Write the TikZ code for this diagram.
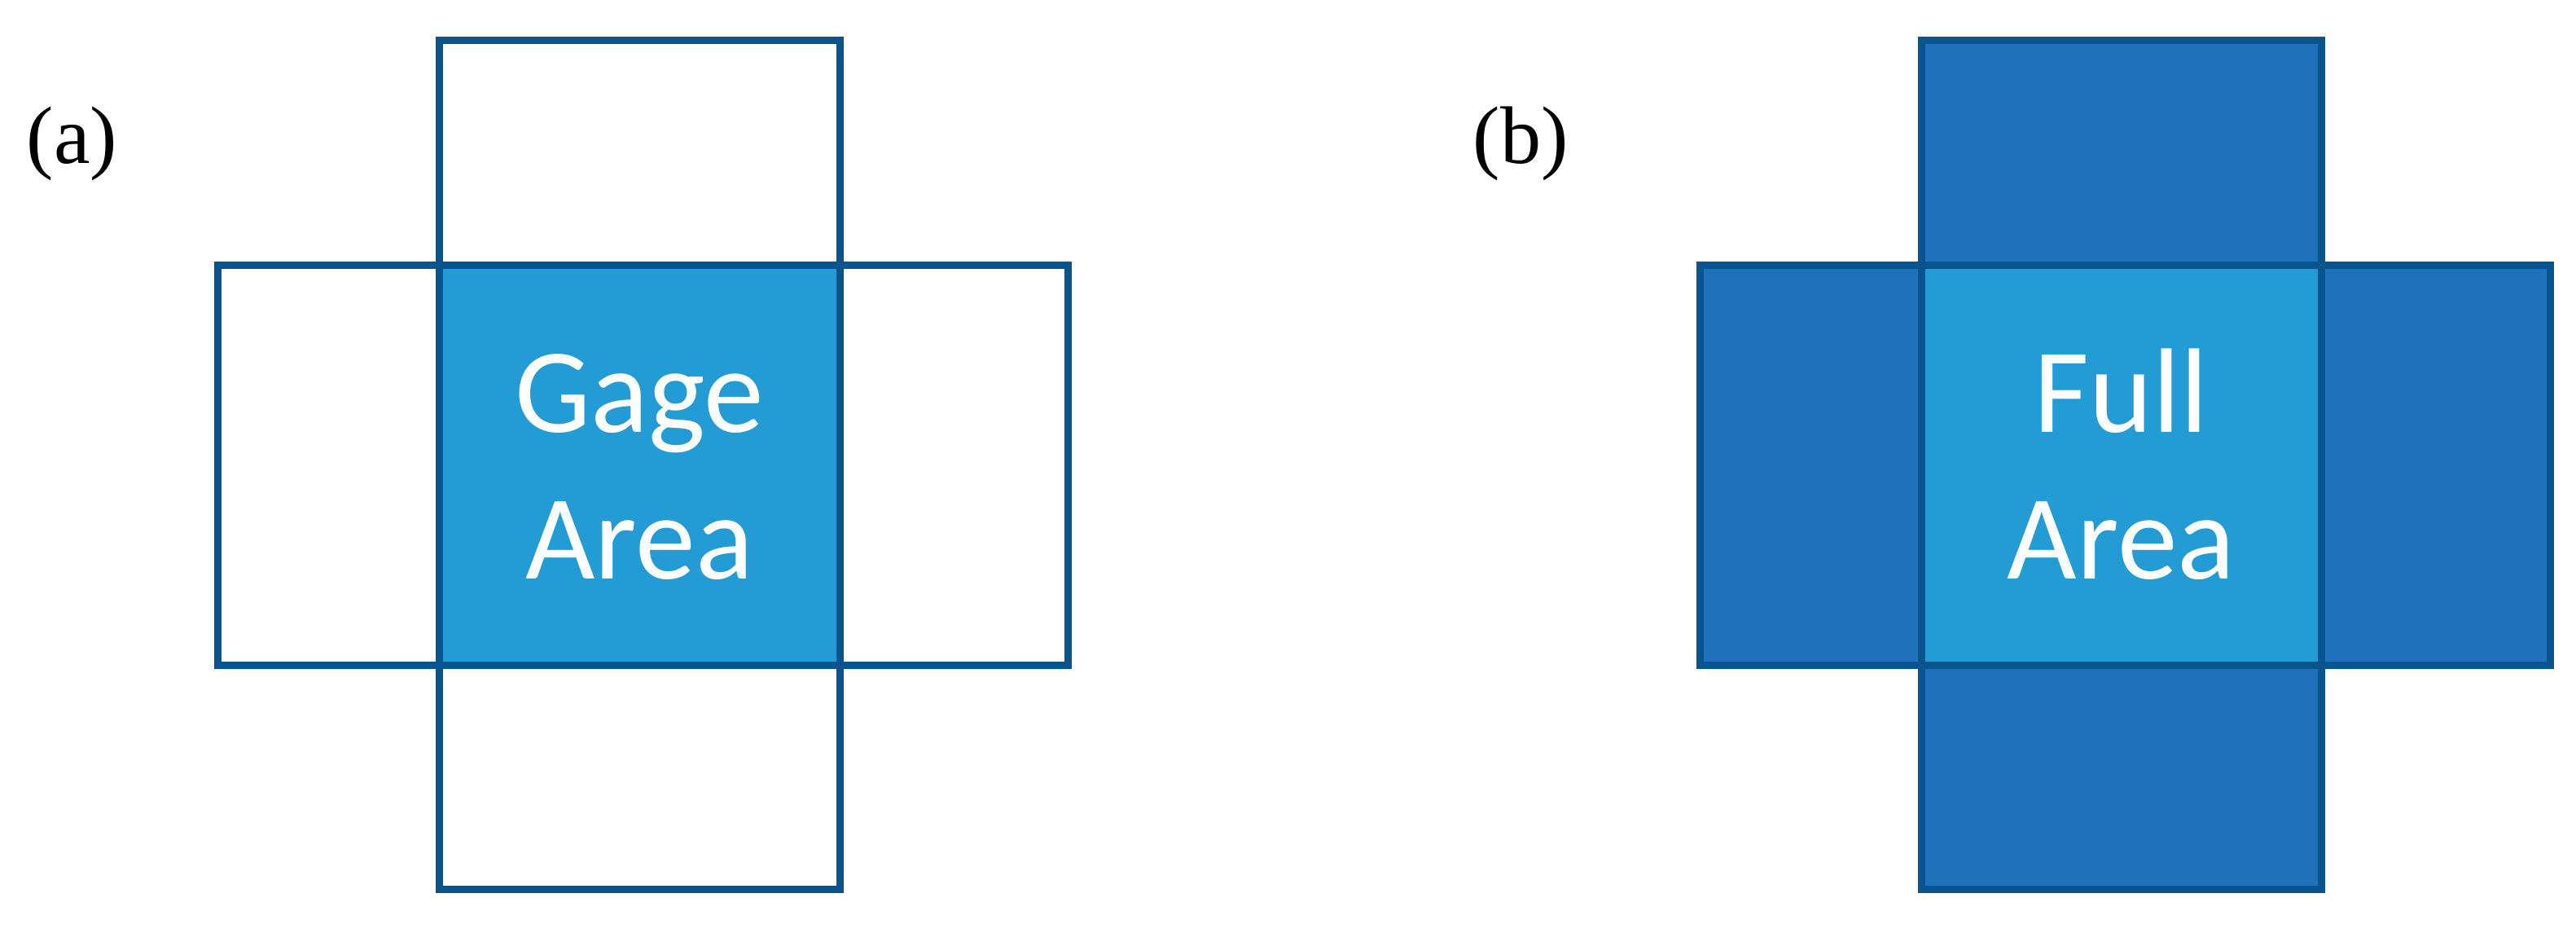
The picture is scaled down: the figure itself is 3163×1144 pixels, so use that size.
\documentclass[tikz,border=0pt]{standalone}
\usepackage{fontspec}
\newfontfamily\calfont{Carlito}
\newfontfamily\timesfont{Liberation Serif}
\definecolor{edgeblue}{RGB}{8,84,143}
\definecolor{lightblue}{RGB}{35,156,214}
\definecolor{darkfill}{RGB}{31,114,186}
\begin{document}
\begin{tikzpicture}[x=0.01cm,y=-0.01cm,
  cell/.style={draw=edgeblue,line width=0.09cm},
  outerfill/.style={cell,fill=darkfill},
  centerfill/.style={fill=lightblue},
  areatext/.style={text=white,align=center,inner sep=0pt,anchor=south,
    font=\calfont\fontsize{42}{51.2}\selectfont},
  panellabel/.style={anchor=base west,inner sep=0pt,text=black,
    font=\timesfont\fontsize{28.5}{34}\selectfont}]
\useasboundingbox (0,0) rectangle (3163,1144);
% ---------- panel (a)
\fill[centerfill] (539.5,325) rectangle (1031,816);
\draw[cell] (539.5,49.5) rectangle (1031,325);
\draw[cell] (267.5,325) rectangle (539.5,816);
\draw[cell] (1031,325) rectangle (1311.5,816);
\draw[cell] (539.5,816) rectangle (1031,1091.5);
\draw[cell] (539.5,325) rectangle (1031,816);
\node[areatext] (gage) at (785,712) {Gage\\Area};
\node[panellabel] (labela) at (32,200) {(a)};
% ---------- panel (b)
\draw[outerfill] (2359,49.5) rectangle (2850.5,325);
\draw[outerfill] (2087,325) rectangle (2359,816);
\draw[outerfill] (2850.5,325) rectangle (3131,816);
\draw[outerfill] (2359,816) rectangle (2850.5,1091.5);
\draw[cell,centerfill] (2359,325) rectangle (2850.5,816);
\node[areatext] (full) at (2604.5,712) {Full\\Area};
\node[panellabel] (labelb) at (1808,200) {(b)};
\end{tikzpicture}
\end{document}
